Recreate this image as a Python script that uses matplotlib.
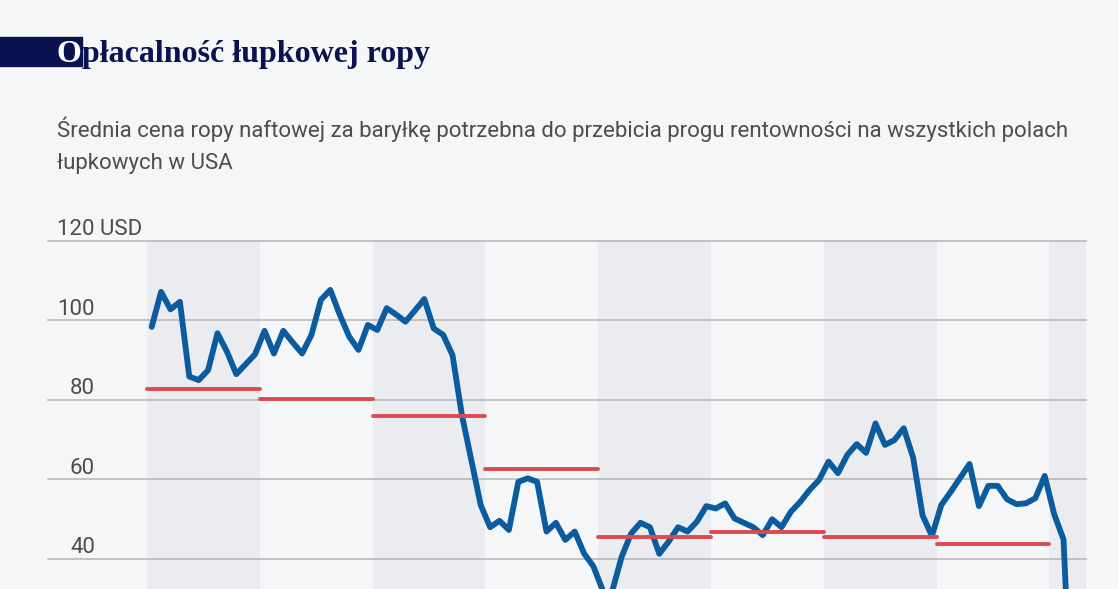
import numpy as np
import matplotlib
matplotlib.use("Agg")
import matplotlib.pyplot as plt
from matplotlib.patches import Rectangle


#########################
#   DATA
#########################

years = [2012, 2013, 2014, 2015, 2016, 2017, 2018, 2019, 2020]

# average break-even price per year (USD / barrel)
breakeven = [82.8, 80.2, 76.0, 62.6, 45.5, 46.7, 45.5, 43.8]

# monthly oil price, Jan 2012 onwards (USD / barrel)
price = [98.4, 107.2, 102.8, 104.7, 85.9, 85.0, 87.5, 96.8, 92.2, 86.5, 89.0, 91.5,
         97.4, 91.7, 97.4, 94.5, 91.7, 96.4, 105.2, 107.7, 101.5, 96.0, 92.6, 98.9,
         97.6, 103.1, 101.5, 99.7, 102.5, 105.4, 98.0, 96.4, 91.3, 76.2, 64.9, 53.6,
         48.0, 49.6, 47.3, 59.4, 60.3, 59.4, 46.9, 49.1, 44.8, 46.9, 41.4, 38.1,
         32.0, 32.0, 40.6, 46.4, 49.1, 48.0, 41.3, 44.4, 48.0, 46.9, 49.4, 53.3,
         52.7, 54.0, 50.2, 49.1, 48.0, 46.0, 50.0, 48.0, 51.9, 54.4, 57.4, 59.9,
         64.5, 61.6, 66.2, 68.9, 66.7, 74.1, 68.7, 69.9, 72.9, 65.5, 51.0, 45.8,
         53.6, 56.9, 60.4, 63.9, 53.3, 58.4, 58.4, 55.0, 53.8, 54.0, 55.3, 60.9,
         51.3, 44.9, -8.0]

yticks = [40, 60, 80, 100, 120]
ytick_labels = ["40", "60", "80", "100", "120 USD"]

title_first = "O"
title_rest = "płacalność łupkowej ropy"
subtitle_lines = ["Średnia cena ropy naftowej za baryłkę potrzebna do przebicia progu rentowności na wszystkich polach",
                  "łupkowych w USA"]


#########################
#   STYLE
#########################

BG = "#f5f6f8"
BAND = "#ebecf0"
GRID = "#b9b9bb"
BLUE = "#0b5c9e"
RED = "#dc4a4f"
NAVY = "#0b1250"
GREY_TXT = "#4d4d4f"

W, H = 1118, 589
fig = plt.figure(figsize=(W / 100, H / 100), dpi=100, facecolor=BG)

# axes placed in pixel units: left 48, right 1086, top 241, bottom 589
ax = fig.add_axes([48 / W, 0, (1086 - 48) / W, (589 - 241) / H])
ax.set_facecolor(BG)
ax.set_xlim(-11.03, 99.39)
ax.set_ylim(32.45, 120)
for s in ax.spines.values():
    s.set_visible(False)
ax.set_xticks([])
ax.set_yticks([])

# shaded years
for k, yr in enumerate(years):
    if k % 2 == 0:
        ax.axvspan(12 * k - 0.5, 12 * k + 11.5, color=BAND, lw=0, zorder=0)

# gridlines + labels
for v, lab in zip(yticks, ytick_labels):
    ax.axhline(v, color=GRID, lw=1.2, zorder=1, clip_on=False)
    if lab.endswith("USD"):
        ax.text(-11.03 + 9 / 9.4, v + 1.5, lab, ha="left", va="baseline",
                fontsize=16, color=GREY_TXT, family="Roboto")
    else:
        ax.text(-11.03 + 47 / 9.4, v + 1.5, lab, ha="right", va="baseline",
                fontsize=16, color=GREY_TXT, family="Roboto")

# price line
months = np.arange(len(price))
ax.plot(months, price, color=BLUE, lw=4.2, zorder=3,
        solid_joinstyle="round", solid_capstyle="round")

# break-even per year
for k, b in enumerate(breakeven):
    ax.plot([12 * k - 0.5, 12 * k + 11.5], [b, b], color=RED, lw=2.8,
            zorder=4, solid_capstyle="round")


#########################
#   TITLES
#########################

t0 = fig.text(57 / W, 1 - 62 / H, title_first, fontsize=23, fontweight="bold",
              family="Liberation Serif", color="white", zorder=3)
fig.canvas.draw()
bb = t0.get_window_extent()
fig.patches.append(Rectangle((0, 1 - 66 / H), bb.x1 / W, 29 / H,
                             transform=fig.transFigure, color=NAVY, zorder=1))
fig.text(bb.x1 / W, 1 - 62 / H, title_rest, fontsize=23, fontweight="bold",
         family="Liberation Serif", color=NAVY, zorder=2)

fig.text(57 / W, 1 - 137 / H, subtitle_lines[0], fontsize=16, color=GREY_TXT,
         family="Roboto", va="baseline")
fig.text(57 / W, 1 - 169 / H, subtitle_lines[1], fontsize=16, color=GREY_TXT,
         family="Roboto", va="baseline")

fig.savefig("out.png", dpi=100, facecolor=BG)
